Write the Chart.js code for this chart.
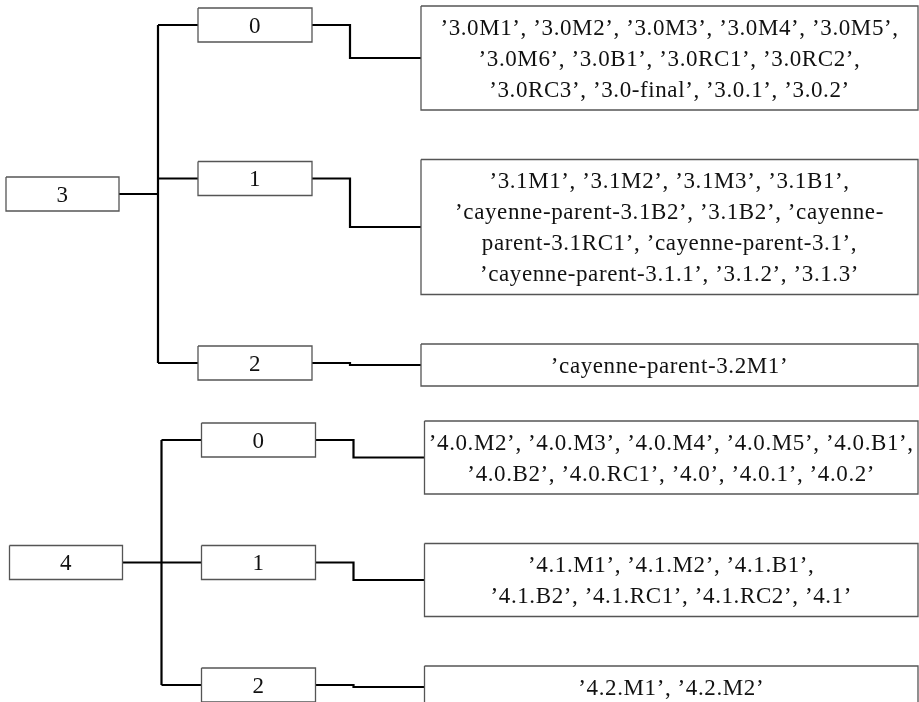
<!DOCTYPE html>
<html>
<head>
<meta charset="utf-8">
<script src="https://cdn.jsdelivr.net/npm/chart.js@4/dist/chart.umd.min.js"></script>
<style>
  html, body { margin: 0; padding: 0; background: #ffffff; }
  #wrap { width: 919px; height: 702px; }
</style>
</head>
<body>
<div id="wrap"><canvas id="c" width="919" height="702"></canvas></div>
<script>
// ---------- DATA ----------
const ROOT_LABELS = ['3', '4'];
const BRANCH_LABELS_3 = ['0', '1', '2'];
const BRANCH_LABELS_4 = ['0', '1', '2'];
const LEAF_LINES_3 = [
  ['’3.0M1’, ’3.0M2’, ’3.0M3’, ’3.0M4’, ’3.0M5’,',
   '’3.0M6’, ’3.0B1’, ’3.0RC1’, ’3.0RC2’,',
   '’3.0RC3’, ’3.0-final’, ’3.0.1’, ’3.0.2’'],
  ['’3.1M1’, ’3.1M2’, ’3.1M3’, ’3.1B1’,',
   '’cayenne-parent-3.1B2’, ’3.1B2’, ’cayenne-',
   'parent-3.1RC1’, ’cayenne-parent-3.1’,',
   '’cayenne-parent-3.1.1’, ’3.1.2’, ’3.1.3’'],
  ['’cayenne-parent-3.2M1’']
];
const LEAF_LINES_4 = [
  ['’4.0.M2’, ’4.0.M3’, ’4.0.M4’, ’4.0.M5’, ’4.0.B1’,',
   '’4.0.B2’, ’4.0.RC1’, ’4.0’, ’4.0.1’, ’4.0.2’'],
  ['’4.1.M1’, ’4.1.M2’, ’4.1.B1’,',
   '’4.1.B2’, ’4.1.RC1’, ’4.1.RC2’, ’4.1’'],
  ['’4.2.M1’, ’4.2.M2’']
];
const BRANCH_LABELS = [BRANCH_LABELS_3, BRANCH_LABELS_4];
const LEAF_LINES = [LEAF_LINES_3, LEAF_LINES_4];

// ---------- LAYOUT (styling / geometry rules) ----------
const LAYOUT = {
  rootX: [6, 119], midX: [198, 312], trunkX: 158, elbowX: 350, leafX: [421, 918],
  nodeH: 34, lineH: 31, boxPad: 11, gapIn: 49.5, gapOut: 35, top: 6,
  shift: [0, 3.5], nodeOffset: 2
};
const FONT = '23px "Liberation Serif", "Times New Roman", serif';
const BOX_COLOR = '#555555';
const LINK_COLOR = '#000000';

// compute layout from the tree structure
const boxes = [];   // {l,r,t,b,lines}
const links = [];   // polylines
let y = LAYOUT.top;
ROOT_LABELS.forEach((rootLabel, ti) => {
  const sx = LAYOUT.shift[ti];
  const kids = [];
  LEAF_LINES[ti].forEach((lines, ci) => {
    const h = LAYOUT.lineH * lines.length + LAYOUT.boxPad;
    const leaf = { l: LAYOUT.leafX[0] + sx, r: LAYOUT.leafX[1], t: y, b: y + h, lines: lines };
    const mt = y + LAYOUT.nodeOffset;
    const mid = { l: LAYOUT.midX[0] + sx, r: LAYOUT.midX[1] + sx, t: mt, b: mt + LAYOUT.nodeH, lines: [BRANCH_LABELS[ti][ci]] };
    boxes.push(leaf, mid);
    kids.push(mid);
    const my = (mid.t + mid.b) / 2, ly = (leaf.t + leaf.b) / 2, ex = LAYOUT.elbowX + sx;
    links.push([[mid.r, my], [ex, my], [ex, ly], [leaf.l, ly]]);
    y += h + (ci < LEAF_LINES[ti].length - 1 ? LAYOUT.gapIn : LAYOUT.gapOut);
  });
  const c0 = (kids[0].t + kids[0].b) / 2;
  const c1 = (kids[kids.length - 1].t + kids[kids.length - 1].b) / 2;
  const rc = (c0 + c1) / 2;
  const root = { l: LAYOUT.rootX[0] + sx, r: LAYOUT.rootX[1] + sx, t: rc - LAYOUT.nodeH / 2, b: rc + LAYOUT.nodeH / 2, lines: [rootLabel] };
  boxes.push(root);
  const tx = LAYOUT.trunkX + sx;
  links.push([[root.r, rc], [tx, rc]]);
  links.push([[tx, c0], [tx, c1]]);
  kids.forEach(k => {
    const ky = (k.t + k.b) / 2;
    links.push([[tx, ky], [k.l, ky]]);
  });
});

const datasets = [];
boxes.forEach(bx => {
  datasets.push({
    data: [{x: bx.l, y: bx.t}, {x: bx.r, y: bx.t}, {x: bx.r, y: bx.b}, {x: bx.l, y: bx.b}, {x: bx.l, y: bx.t}],
    showLine: true, borderColor: BOX_COLOR, borderWidth: 1.3, pointRadius: 0, fill: false,
    borderJoinStyle: 'miter', tension: 0, clip: false
  });
});
links.forEach(pl => {
  datasets.push({
    data: pl.map(p => ({x: p[0], y: p[1]})),
    showLine: true, borderColor: LINK_COLOR, borderWidth: 2.2, pointRadius: 0, fill: false,
    borderJoinStyle: 'miter', tension: 0, clip: false
  });
});

const textPlugin = {
  id: 'boxText',
  afterDatasetsDraw(chart) {
    const ctx = chart.ctx, xs = chart.scales.x, ys = chart.scales.y;
    ctx.save();
    ctx.font = FONT;
    ctx.fillStyle = '#111111';
    ctx.textAlign = 'center';
    ctx.textBaseline = 'alphabetic';
    try { ctx.letterSpacing = '0.6px'; } catch (e) {}
    boxes.forEach(bx => {
      const cx = xs.getPixelForValue((bx.l + bx.r) / 2);
      const n = bx.lines.length;
      bx.lines.forEach((ln, i) => {
        const vy = (bx.t + bx.b) / 2 + (i - (n - 1) / 2) * LAYOUT.lineH + 7.5;
        ctx.fillText(ln, cx, ys.getPixelForValue(vy));
      });
    });
    ctx.restore();
  }
};

new Chart(document.getElementById('c'), {
  type: 'scatter',
  data: { datasets: datasets },
  options: {
    responsive: false,
    devicePixelRatio: 1,
    animation: false,
    layout: { padding: 0 },
    plugins: { legend: { display: false }, tooltip: { enabled: false } },
    scales: {
      x: { type: 'linear', min: 0, max: 919, display: false },
      y: { type: 'linear', min: 0, max: 702, reverse: true, display: false }
    }
  },
  plugins: [textPlugin]
});
</script>
</body>
</html>
